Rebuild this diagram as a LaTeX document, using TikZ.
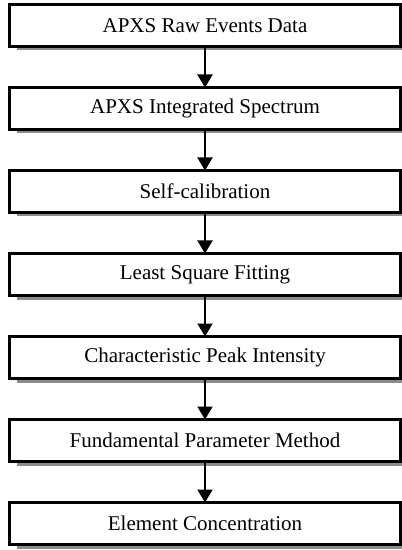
\documentclass[tikz,border=0pt]{standalone}
\usepackage{fontspec}
\setmainfont{Liberation Serif}
\usetikzlibrary{positioning,shadows,arrows.meta}

\tikzset{
    stepbox/.style={draw, line width=1.5pt, fill=white, outer sep=0pt,
        minimum width=195.5pt, minimum height=21pt, inner sep=0pt,
        font=\fontsize{10.5}{12}\selectfont,
        drop shadow={shadow xshift=3.5pt, shadow yshift=-2pt, fill=black!45, opacity=1}},
    flow/.style={-{Triangle[width=7.5pt,length=6.5pt]}, line width=1pt}
}

\begin{document}
\begin{tikzpicture}[node distance=20.5pt]
    % Cadre de la figure
    \useasboundingbox (0,0) rectangle (200.5pt,-275pt);

    % Les étapes
    \node[stepbox] (raw) at (102.5pt,-12.75pt) {APXS Raw Events Data};
    \node[stepbox, below=of raw] (spec) {APXS Integrated Spectrum};
    \node[stepbox, below=of spec] (calib) {Self-calibration};
    \node[stepbox, below=of calib] (fit) {Least Square Fitting};
    \node[stepbox, below=of fit] (peak) {Characteristic Peak Intensity};
    \node[stepbox, below=of peak] (fpm) {Fundamental Parameter Method};
    \node[stepbox, below=of fpm] (conc) {Element Concentration};

    % Flèches entre les étapes
    \foreach \a/\b in {raw/spec,spec/calib,calib/fit,fit/peak,peak/fpm,fpm/conc} {
        \draw[flow] (\a) -- (\b);
    }

\end{tikzpicture}
\end{document}
